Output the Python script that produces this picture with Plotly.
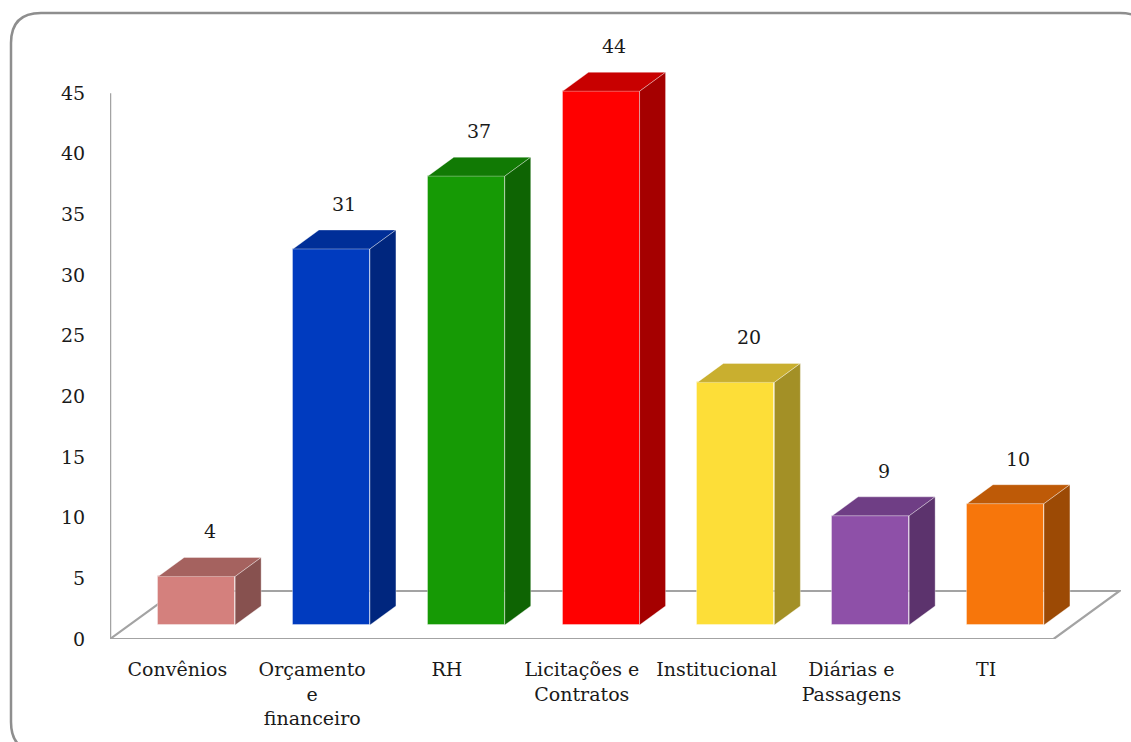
import plotly.graph_objects as go

# ---- data ----
categories = ["Convênios", "Orçamento<br>e<br>financeiro", "RH", "Licitações e<br>Contratos",
              "Institucional", "Diárias e<br>Passagens", "TI"]
values = [4, 31, 37, 44, 20, 9, 10]
y_ticks = [0, 5, 10, 15, 20, 25, 30, 35, 40, 45]

# ---- styles ----
front_colors = ["#D4807D", "#003BBF", "#169A05", "#FF0000", "#FDDE38", "#8E50A8", "#F7760B"]
top_colors = ["#A5625F", "#002E98", "#117A04", "#C80000", "#C9AF2F", "#6F3E85", "#BE5A07"]
side_colors = ["#87514F", "#00267E", "#0E6403", "#A50000", "#A39026", "#5C336D", "#9C4A05"]
FONT = "DejaVu Serif"
FS = 19

# geometry (in axis units)
W, H = 1131, 742
ML, MR, MT, MB = 110, 10, 32, 103
PX_X = (W - ML - MR) / 7.5
PX_Y = 12.13
YMAX = (H - MT - MB) / PX_Y
FLOOR_DX, FLOOR_DY = 66 / PX_X, 48 / PX_Y
BAR_DX, BAR_DY = 26 / PX_X, 19 / PX_Y
BAR_W = 77 / PX_X
B0 = 14 / PX_Y
SHIFT = B0 / FLOOR_DY * FLOOR_DX

fig = go.Figure()

xs = [i + SHIFT for i in range(len(values))]
fig.add_trace(go.Bar(x=xs, y=values, base=B0, width=BAR_W,
                     marker=dict(color=front_colors, line=dict(color="rgba(255,255,255,0.35)", width=1)),
                     hoverinfo="skip", showlegend=False))

for i, v in enumerate(values):
    x0 = xs[i] - BAR_W / 2
    x1 = xs[i] + BAR_W / 2
    top = B0 + v
    fig.add_trace(go.Scatter(
        x=[x0, x1, x1 + BAR_DX, x0 + BAR_DX, x0],
        y=[top, top, top + BAR_DY, top + BAR_DY, top],
        fill="toself", fillcolor=top_colors[i], mode="lines",
        line=dict(color="rgba(255,255,255,0.35)", width=1),
        hoverinfo="skip", showlegend=False))
    fig.add_trace(go.Scatter(
        x=[x1, x1, x1 + BAR_DX, x1 + BAR_DX, x1],
        y=[B0, top, top + BAR_DY, B0 + BAR_DY, B0],
        fill="toself", fillcolor=side_colors[i], mode="lines",
        line=dict(color="rgba(255,255,255,0.35)", width=1),
        hoverinfo="skip", showlegend=False))
    fig.add_annotation(x=xs[i] + BAR_DX / 2, y=top + BAR_DY, text=str(v),
                       showarrow=False, yanchor="middle", yshift=26,
                       font=dict(family=FONT, size=FS, color="#1a1a1a"))

# floor and vertical axis line
fig.add_shape(type="path", layer="below", xref="x", yref="y",
              path=(f"M {-0.5},0 L {6.5},0 L {6.5 + FLOOR_DX},{FLOOR_DY} "
                    f"L {-0.5 + FLOOR_DX},{FLOOR_DY} Z"),
              line=dict(color="#A3A3A3", width=2.2), fillcolor="rgba(0,0,0,0)")
fig.add_shape(type="line", layer="below", xref="x", yref="y",
              x0=-0.5, x1=-0.5, y0=0, y1=y_ticks[-1],
              line=dict(color="#A3A3A3", width=2.5))

# outer rounded border (paper coords)
def px(xp):
    return (xp - ML) / (W - ML - MR)

def py(yp):
    return (H - MB - yp) / (H - MT - MB)

L, T, R, B, r = 11, 13, 1150, 752, 30
path = (f"M {px(L)},{py(T + r)} Q {px(L)},{py(T)} {px(L + r)},{py(T)} "
        f"L {px(R - r)},{py(T)} Q {px(R)},{py(T)} {px(R)},{py(T + r)} "
        f"L {px(R)},{py(B - r)} Q {px(R)},{py(B)} {px(R - r)},{py(B)} "
        f"L {px(L + r)},{py(B)} Q {px(L)},{py(B)} {px(L)},{py(B - r)} Z")
fig.add_shape(type="path", xref="paper", yref="paper", path=path, layer="below",
              line=dict(color="#8E8E8E", width=2.5), fillcolor="rgba(0,0,0,0)")

fig.update_layout(
    width=W, height=H, autosize=False,
    margin=dict(l=ML, r=MR, t=MT, b=MB),
    paper_bgcolor="white", plot_bgcolor="white",
    showlegend=False, bargap=0,
    font=dict(family=FONT, size=FS, color="#1a1a1a"),
    xaxis=dict(range=[-0.5, 7.0], tickvals=list(range(len(categories))), ticktext=categories,
               showgrid=False, zeroline=False, showline=False, automargin=False,
               ticks="outside", ticklen=13, tickcolor="rgba(0,0,0,0)",
               tickfont=dict(family=FONT, size=FS, color="#1a1a1a"), fixedrange=True),
    yaxis=dict(range=[0, YMAX], tickvals=y_ticks, ticktext=[str(t) for t in y_ticks],
               showgrid=False, zeroline=False, showline=False, automargin=False,
               ticks="outside", ticklen=20, tickcolor="rgba(0,0,0,0)",
               tickfont=dict(family=FONT, size=FS, color="#1a1a1a"), fixedrange=True),
)

fig.write_html("out.html")
